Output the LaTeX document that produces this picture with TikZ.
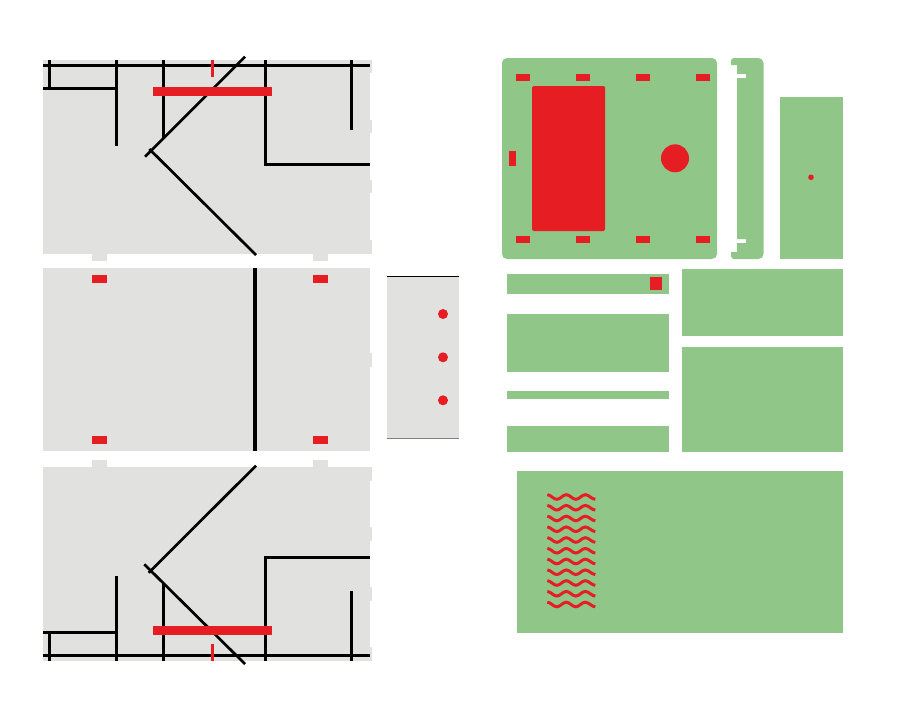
\documentclass[tikz,border=0pt]{standalone}
\definecolor{panelgrey}{HTML}{E1E1E0}
\definecolor{panelgreen}{HTML}{90C789}
\definecolor{cutred}{HTML}{E61E24}
\tikzset{
  greypanel/.style={fill=panelgrey,draw=none},
  greenpanel/.style={fill=panelgreen,draw=none},
  redcut/.style={fill=cutred,draw=none},
  thickcut/.style={draw=black,line width=3pt},
  diagcut/.style={draw=black,line width=2.7pt},
  redtick/.style={draw=cutred,line width=2.8pt},
  wavecut/.style={draw=cutred,line width=3pt}
}
\begin{document}
\begin{tikzpicture}[x=1pt,y=-1pt]
\useasboundingbox (0,0) rectangle (900,710);
% --- panel 1
\fill[greypanel] (43,60) rectangle (370,254);
\foreach \ya/\yb in {60/73,120/133,180/193,240/254}
  \fill[greypanel] (369,\ya) rectangle (372,\yb);
\foreach \xa/\xb in {92/107,313/328}
  \fill[greypanel] (\xa,253) rectangle (\xb,261);
\draw[thickcut] (43,65.7) -- (370,65.7);
\draw[thickcut] (49.7,60) -- (49.7,88);
\draw[thickcut] (43,88.3) -- (117.8,88.3);
\draw[thickcut] (116.3,60) -- (116.3,145.7);
\draw[thickcut] (163.3,60) -- (163.3,138);
\draw[thickcut] (351.3,60) -- (351.3,130);
\draw[thickcut] (265.3,60) -- (265.3,164) -- (370,164);
\draw[diagcut] (245,56.7) -- (145,156.7);
\draw[diagcut] (149.3,149) -- (256,255);
\fill[redcut] (153,87) rectangle (272,96);
\draw[redtick] (212.3,60) -- (212.3,77.3);
% --- panel 2
\fill[greypanel] (43,268) rectangle (370,451);
\fill[greypanel] (369,353) rectangle (372,367);
\draw[black,line width=4pt] (255,268) -- (255,451);
\foreach \xa/\xb in {92/107,313/328}{
  \fill[redcut] (\xa,275) rectangle (\xb,283);
  \fill[redcut] (\xa,436) rectangle (\xb,444);
}
% --- panel 3
\fill[greypanel] (43,467) rectangle (370,661);
\foreach \ya/\yb in {467/481,527/541,587/601,647/661}
  \fill[greypanel] (369,\ya) rectangle (372,\yb);
\foreach \xa/\xb in {92/107,313/328}
  \fill[greypanel] (\xa,460) rectangle (\xb,468);
\draw[thickcut] (43,655.3) -- (370,655.3);
\draw[thickcut] (49.7,661) -- (49.7,632.7);
\draw[thickcut] (43,632.7) -- (117.8,632.7);
\draw[thickcut] (116.3,661) -- (116.3,576);
\draw[thickcut] (163.3,661) -- (163.3,583);
\draw[thickcut] (351.3,661) -- (351.3,591.3);
\draw[thickcut] (265.3,661) -- (265.3,557.3) -- (370,557.3);
\draw[diagcut] (256,465.7) -- (148.7,572.7);
\draw[diagcut] (144.3,564.3) -- (245,664);
\fill[redcut] (153,625.5) rectangle (272,634.7);
\draw[redtick] (212.3,644) -- (212.3,661);
% --- side panel
\fill[greypanel] (387,276) rectangle (459,438.7);
\draw[black,line width=1pt] (387,276.3) -- (459,276.3);
\draw[black!50,line width=1pt] (387,438.5) -- (459,438.5);
\foreach \y in {314,357.3,400.3}
  \fill[redcut] (443,\y) circle (5);
% --- green main plate
\fill[greenpanel,rounded corners=5pt] (502,58) rectangle (717,259);
\foreach \x in {516,576,636,696}{
  \fill[redcut] (\x,74) rectangle ++(14,7);
  \fill[redcut] (\x,236) rectangle ++(14,7);
}
\fill[redcut,rounded corners=1.5pt] (532,86) rectangle (605,231);
\fill[redcut] (509,151.3) rectangle (516,165.7);
\fill[redcut] (675,158.3) circle (14);
% --- strip
\fill[greenpanel] (731,65) -- (737,65) -- (737,74) -- (746,74) -- (746,78) -- (737,78) -- (737,239) -- (746,239) -- (746,243) -- (737,243) -- (737,252) -- (731,252) [rounded corners=3pt] -- (731,259) [rounded corners=5pt] -- (763.5,259) -- (763.5,58) [rounded corners=3pt] -- (731,58) [sharp corners] -- cycle;
% --- right plate
\fill[greenpanel] (780,96.5) rectangle (843,259);
\fill[redcut] (811,177.3) circle (2.8);
% --- small plates
\fill[greenpanel] (507,274) rectangle (669,294);
\fill[redcut] (650,277) rectangle (662,290);
\fill[greenpanel] (507,314) rectangle (669,372);
\fill[greenpanel] (507,391) rectangle (669,399);
\fill[greenpanel] (507,426) rectangle (669,452);
\fill[greenpanel] (682,269) rectangle (843,336);
\fill[greenpanel] (682,347) rectangle (843,452);
% --- bottom plate with waves
\fill[greenpanel] (517,471) rectangle (843,633);
\foreach \i in {0,...,10}{
  \pgfmathsetmacro{\yw}{497+10.75*\i}
  \begin{scope}[shift={(547.3,\yw)}]
    \draw[wavecut] (0,-2.3) .. controls (3.5,-2.3) and (6,2.3) .. (9.5,2.3)
      .. controls (13,2.3) and (15.5,-2.3) .. (19,-2.3)
      .. controls (22.5,-2.3) and (25,2.3) .. (28.5,2.3)
      .. controls (32,2.3) and (34.5,-2.3) .. (38,-2.3)
      .. controls (41.5,-2.3) and (44.5,2.3) .. (48,2.3);
  \end{scope}
}
\end{tikzpicture}
\end{document}
